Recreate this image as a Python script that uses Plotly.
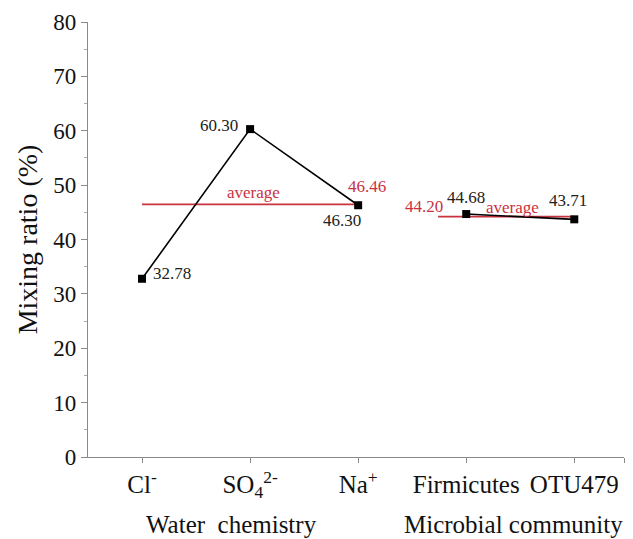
import plotly.graph_objects as go

# Category positions on the x axis
categories = ["Cl<sup>-</sup>", "SO<sub>4</sub><sup>2-</sup>", "Na<sup>+</sup>", "Firmicutes", "OTU479"]
water_x = [1, 2, 3]
microbial_x = [4, 5]

# Mixing ratios (%)
water_values = [32.78, 60.30, 46.30]
microbial_values = [44.68, 43.71]

# Group averages
water_average = 46.46
microbial_average = 44.20
water_avg_span = [1, 3]
microbial_avg_span = [3.74, 5]

group_labels = ["Water  chemistry", "Microbial community"]

RED = "#c9323f"
FONT = "Liberation Serif, Times New Roman, serif"
VAL_SIZE = 17

fig = go.Figure()

# Average lines
fig.add_trace(go.Scatter(x=water_avg_span, y=[water_average] * 2, mode="lines",
                         line=dict(color=RED, width=1.6), hoverinfo="skip"))
fig.add_trace(go.Scatter(x=microbial_avg_span, y=[microbial_average] * 2, mode="lines",
                         line=dict(color=RED, width=1.6), hoverinfo="skip"))

# Data series
for xs, ys in [(water_x, water_values), (microbial_x, microbial_values)]:
    fig.add_trace(go.Scatter(x=xs, y=ys, mode="lines+markers",
                             line=dict(color="black", width=1.6),
                             marker=dict(symbol="square", size=8, color="black")))

# Value labels
value_offsets = [(30, 5), (-31, 4), (-16, -15), (0, 17), (-6, 19)]
all_x = water_x + microbial_x
all_vals = water_values + microbial_values
for x, v, (dx, dy) in zip(all_x, all_vals, value_offsets):
    fig.add_annotation(x=x, y=v, text=f"{v:.2f}", showarrow=False,
                       xshift=dx, yshift=dy, font=dict(family=FONT, size=VAL_SIZE, color="#222"))

# Average labels
fig.add_annotation(x=3, y=water_average, text=f"{water_average:.2f}", showarrow=False,
                   xshift=9, yshift=18, font=dict(family=FONT, size=VAL_SIZE, color=RED))
fig.add_annotation(x=2, y=water_average, text="average", showarrow=False,
                   xshift=3, yshift=12, font=dict(family=FONT, size=VAL_SIZE, color=RED))
fig.add_annotation(x=microbial_avg_span[0], y=microbial_average, text=f"{microbial_average:.2f}",
                   showarrow=False, xshift=-14, yshift=10, font=dict(family=FONT, size=VAL_SIZE, color=RED))
fig.add_annotation(x=4.43, y=microbial_average, text="average", showarrow=False,
                   xshift=0, yshift=9, font=dict(family=FONT, size=VAL_SIZE, color=RED))

# Group labels below the categories
for gx, label in zip([1.83, 4.44], group_labels):
    fig.add_annotation(x=gx, y=0, xref="x", yref="y", text=label, showarrow=False,
                       yshift=-67, font=dict(family=FONT, size=25, color="#111"))

fig.update_layout(
    width=633, height=539,
    margin=dict(l=88, r=9, t=22, b=82),
    paper_bgcolor="white", plot_bgcolor="white",
    showlegend=False,
    font=dict(family=FONT, color="#111"),
)

fig.update_xaxes(
    range=[0.5, 5.46],
    tickvals=[1, 2, 3, 4, 5, 5.46],
    ticktext=categories + [""],
    tickfont=dict(family=FONT, size=25, color="#111"),
    showline=True, linecolor="#8a8a8a", linewidth=1.2,
    ticks="outside", ticklen=5, tickcolor="#8a8a8a", tickwidth=1,
    showgrid=False, zeroline=False,
)
fig.update_yaxes(
    range=[0, 80],
    tickvals=list(range(0, 81, 10)),
    tickfont=dict(family=FONT, size=23, color="#111"),
    title=dict(text="Mixing ratio (%)", font=dict(family=FONT, size=28, color="#111"), standoff=7),
    showline=True, linecolor="#8a8a8a", linewidth=1.2,
    ticks="outside", ticklen=6, tickcolor="#8a8a8a", tickwidth=1,
    minor=dict(dtick=5, ticks="outside", ticklen=3, tickcolor="#aaaaaa"),
    showgrid=False, zeroline=False,
)

fig.write_html("out.html")
